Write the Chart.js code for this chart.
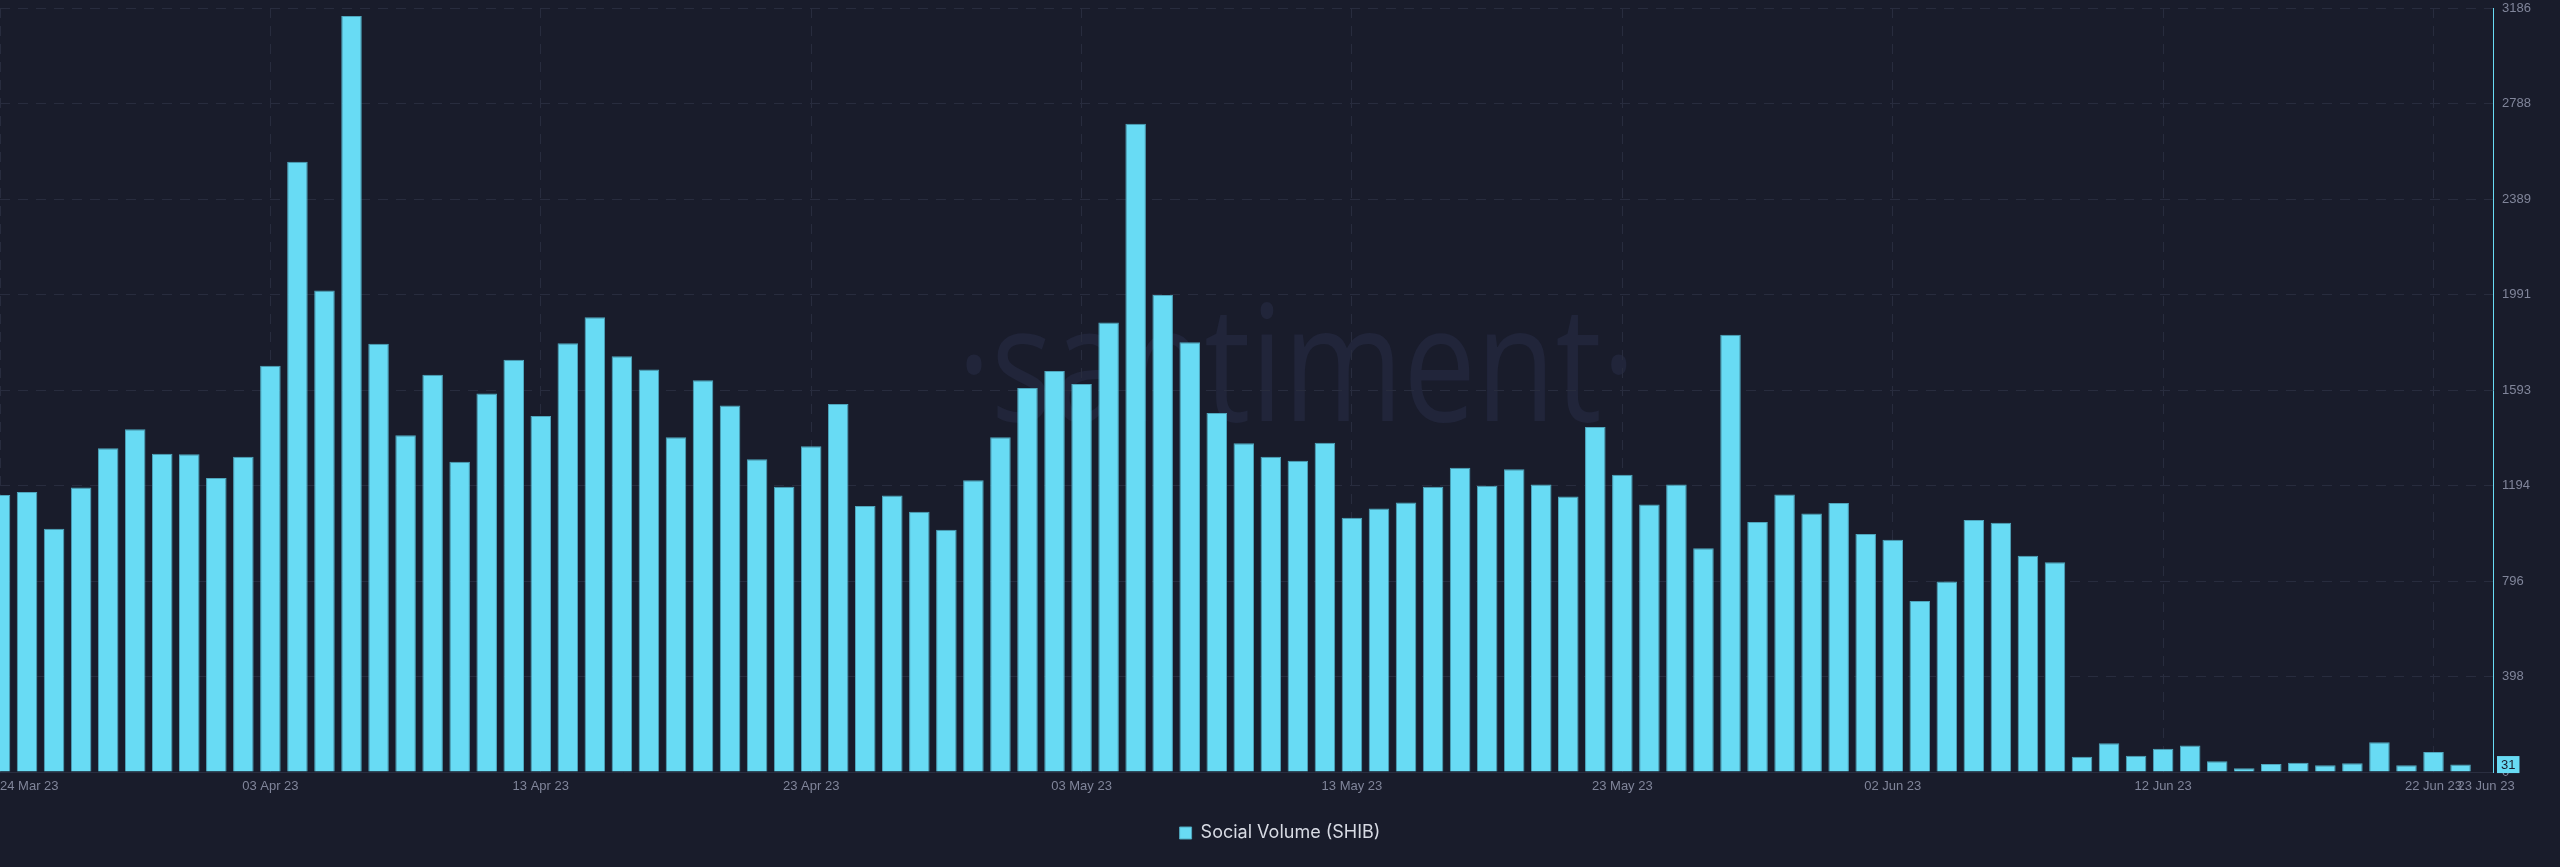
<!DOCTYPE html>
<html>
<head>
<meta charset="utf-8">
<script src="https://cdn.jsdelivr.net/npm/chart.js@4.4.0/dist/chart.umd.min.js"></script>
<style>
  html, body { margin: 0; padding: 0; background: #191c2b; }
  #contenedor { width: 2560px; height: 867px; position: relative; }
</style>
</head>
<body>
<div id="contenedor"><canvas id="grafica"></canvas></div>
<script>
// Volumen social diario de SHIB, del 24 Mar 23 al 23 Jun 23 (una barra por día)
const volumenSocial = [
  1155, 1168, 1014, 1186, 1350, 1429, 1327, 1325, 1226, 1315,
  1694, 2545, 2008, 3153, 1786, 1404, 1657, 1294, 1578, 1719,
  1485, 1788, 1896, 1734, 1678, 1396, 1634, 1528, 1304, 1190,
  1358, 1535, 1109, 1153, 1085, 1010, 1217, 1396, 1601, 1672,
  1618, 1875, 2703, 1989, 1792, 1497, 1371, 1315, 1298, 1373,
  1060, 1099, 1124, 1190, 1269, 1194, 1263, 1199, 1149, 1439,
  1240, 1116, 1199, 933, 1823, 1043, 1157, 1078, 1122, 993,
  968, 713, 794, 1051, 1039, 902, 875, 64, 120, 68,
  97, 111, 45, 16, 33, 39, 28, 37, 124, 28,
  83, 31
];

// Marcas del eje X (índice del día) y sus textos
const diasMarca = [0, 10, 20, 30, 40, 50, 60, 70, 80, 90];
const textosMarca = ['24 Mar 23', '03 Apr 23', '13 Apr 23', '23 Apr 23', '03 May 23',
                     '13 May 23', '23 May 23', '02 Jun 23', '12 Jun 23', '22 Jun 23'];
const textoFinal = '23 Jun 23';

// Marcas del eje Y
const marcasY = [0, 398, 796, 1194, 1593, 1991, 2389, 2788, 3186];

const Y_MAX = 3186;
const X_FIN = 92.2;          // el eje de tiempo se extiende un poco más allá del último día
const X_ETIQUETA_FIN = 93;   // la etiqueta final cae sobre la zona del eje derecho

const CIAN = '#68dbf4';
const REJILLA = '#282c3e';
const TEXTO_EJE = '#80859a';

// Fechas de cada barra
const inicio = Date.UTC(2023, 2, 24);
const meses = ['Jan','Feb','Mar','Apr','May','Jun','Jul','Aug','Sep','Oct','Nov','Dec'];
const fechas = volumenSocial.map((_, i) => {
    const d = new Date(inicio + i * 86400000);
    return String(d.getUTCDate()).padStart(2, '0') + ' ' + meses[d.getUTCMonth()] + ' 23';
});

const puntos = volumenSocial.map((v, i) => ({ x: i, y: v, fecha: fechas[i] }));

// Marca de agua "santiment" detrás de la rejilla
const marcaAgua = {
    id: 'marcaAgua',
    beforeDraw(chart) {
        const { ctx, chartArea } = chart;
        ctx.save();
        ctx.fillStyle = '#21253a';
        ctx.font = '162px "Open Sans"';
        ctx.textAlign = 'center';
        ctx.textBaseline = 'alphabetic';
        ctx.translate(chartArea.left + chartArea.width * 0.52, chartArea.top + chartArea.height * 0.54);
        ctx.scale(0.8, 1);
        ctx.fillText('·santiment·', 0, 0);
        ctx.restore();
    }
};

// Etiqueta del último valor sobre el eje derecho
const ultimoValor = {
    id: 'ultimoValor',
    afterDraw(chart) {
        const { ctx, chartArea, scales } = chart;
        const v = volumenSocial[volumenSocial.length - 1];
        const py = scales.y.getPixelForValue(v);
        const txt = String(v);
        ctx.save();
        ctx.font = '13px "Liberation Sans"';
        const w = ctx.measureText(txt).width + 8;
        const x0 = chartArea.right + 4;
        ctx.fillStyle = CIAN;
        ctx.fillRect(x0, py - 8.5, w, 17);
        ctx.fillStyle = '#1a1d2c';
        ctx.textBaseline = 'middle';
        ctx.fillText(txt, x0 + 4, py + 1);
        ctx.restore();
    }
};

new Chart(document.getElementById('grafica'), {
    type: 'bar',
    data: {
        datasets: [{
            label: 'Social Volume (SHIB)',
            data: puntos,
            backgroundColor: CIAN,
            borderColor: '#4ea6bd',
            borderWidth: 1,
            categoryPercentage: 0.76,
            barPercentage: 1
        }]
    },
    options: {
        responsive: true,
        maintainAspectRatio: false,
        animation: false,
        layout: { padding: { top: 8, right: 0, bottom: 15, left: 0 } },
        plugins: {
            tooltip: { enabled: false },
            legend: {
                position: 'bottom',
                labels: {
                    color: '#d8dbe4',
                    font: { family: 'Inter', size: 18 },
                    boxWidth: 12,
                    boxHeight: 12,
                    padding: 9
                }
            }
        },
        scales: {
            x: {
                type: 'linear',
                min: 0,
                max: X_FIN,
                offset: false,
                afterBuildTicks: (s) => {
                    s.ticks = diasMarca.map(v => ({ value: v })).concat([{ value: X_ETIQUETA_FIN }]);
                },
                afterFit: (s) => { s.paddingLeft = 0; s.paddingRight = 0; s.height = 43; },
                grid: {
                    offset: false,
                    color: (c) => c.index === diasMarca.length ? 'transparent' : REJILLA,
                    lineWidth: 1,
                    drawTicks: false
                },
                border: { display: true, color: '#2a2e40', width: 1, dash: [10, 8] },
                ticks: {
                    autoSkip: false,
                    maxRotation: 0,
                    align: 'inner',
                    padding: 7,
                    color: TEXTO_EJE,
                    font: { family: 'Liberation Sans', size: 13 },
                    callback: (v, i) => i < textosMarca.length ? textosMarca[i] : textoFinal
                }
            },
            y: {
                position: 'right',
                min: 0,
                max: Y_MAX,
                afterBuildTicks: (s) => { s.ticks = marcasY.map(v => ({ value: v })); },
                afterFit: (s) => { s.width = 67; s.paddingTop = 0; s.paddingBottom = 0; },
                grid: { color: REJILLA, lineWidth: 1, drawTicks: false },
                border: { display: true, color: CIAN, width: 1, dash: [10, 8] },
                ticks: {
                    padding: 9,
                    color: TEXTO_EJE,
                    font: { family: 'Liberation Sans', size: 13 },
                    callback: (v) => String(v)
                }
            }
        }
    },
    plugins: [marcaAgua, ultimoValor]
});
</script>
</body>
</html>
